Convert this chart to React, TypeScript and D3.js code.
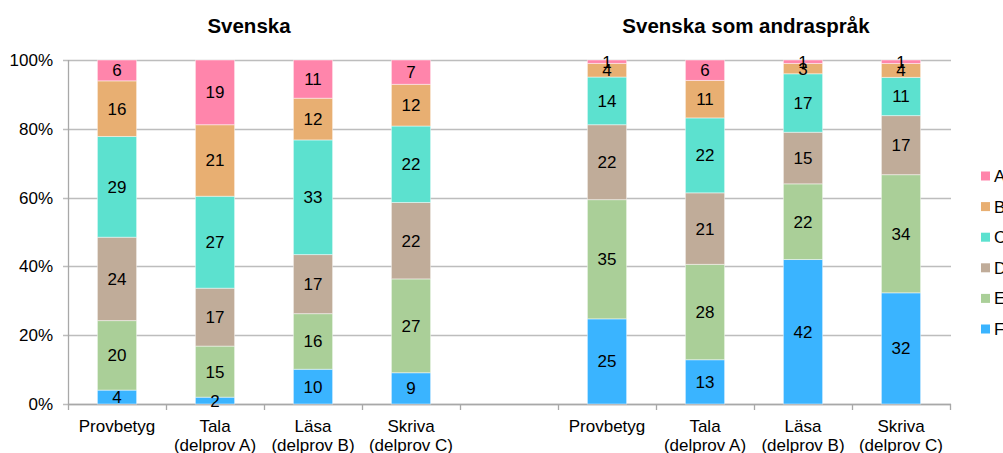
import React from "react";
import * as d3 from "d3";

const categories = ["sv1", "sv2", "sv3", "sv4", "gap", "sa1", "sa2", "sa3", "sa4"];
const categoryLabels: string[][] = [
  ["Provbetyg"], ["Tala", "(delprov A)"], ["Läsa", "(delprov B)"], ["Skriva", "(delprov C)"],
  [],
  ["Provbetyg"], ["Tala", "(delprov A)"], ["Läsa", "(delprov B)"], ["Skriva", "(delprov C)"],
];
const grades = ["F", "E", "D", "C", "B", "A"];
const legendOrder = ["A", "B", "C", "D", "E", "F"];
const valuesF = [4, 2, 10, 9, 0, 25, 13, 42, 32];
const valuesE = [20, 15, 16, 27, 0, 35, 28, 22, 34];
const valuesD = [24, 17, 17, 22, 0, 22, 21, 15, 17];
const valuesC = [29, 27, 33, 22, 0, 14, 22, 17, 11];
const valuesB = [16, 21, 12, 12, 0, 4, 11, 3, 4];
const valuesA = [6, 19, 11, 7, 0, 1, 6, 1, 1];
const yTicks = [0, 0.2, 0.4, 0.6, 0.8, 1];
const titles = ["Svenska", "Svenska som andraspråk"];

const colors: Record<string, string> = {
  A: "#FF85AB",
  B: "#E8AF72",
  C: "#5CE1CF",
  D: "#C0AC99",
  E: "#AACF98",
  F: "#3AB4FF",
};

const FONT = "'Liberation Sans', Arial, sans-serif";

export default function App() {
  const W = 1003, H = 453;
  const left = 68, right = 950, top = 60, bottom = 404;
  const rows = categories.map((c, i) => ({
    cat: c,
    F: valuesF[i], E: valuesE[i], D: valuesD[i], C: valuesC[i], B: valuesB[i], A: valuesA[i],
  }));
  const x = d3.scaleBand<string>().domain(categories).range([left, right]).paddingInner(0.6).paddingOuter(0.3);
  const y = d3.scaleLinear().domain([0, 1]).range([bottom, top]);
  const stack = d3.stack<any>().keys(grades).offset(d3.stackOffsetExpand);
  const series = stack(rows.filter(r => r.cat !== "gap") as any);
  const step = x.step();
  const boundaries = d3.range(categories.length + 1).map(i => left + i * step);

  return (
    <svg width={W} height={H} style={{ position: "absolute", left: 0, top: 0, background: "#fff" }} fontFamily={FONT}>
      {yTicks.map(t => (
        <g key={t}>
          <line x1={left - 5} x2={right + 1} y1={Math.round(y(t)) + 0.5} y2={Math.round(y(t)) + 0.5} stroke="#BDBDBD" strokeWidth={1.3} />
          <text x={53} y={y(t) + 6} textAnchor="end" fontSize={17} fill="#000">{d3.format(".0%")(t)}</text>
        </g>
      ))}
      <line x1={left + 0.5} x2={left + 0.5} y1={top} y2={bottom} stroke="#A8A8A8" strokeWidth={1.3} />
      <line x1={left} x2={right + 1} y1={bottom + 0.5} y2={bottom + 0.5} stroke="#A8A8A8" strokeWidth={1.3} />
      {boundaries.map((b, i) => (
        <line key={i} x1={Math.round(b) + 0.5} x2={Math.round(b) + 0.5} y1={bottom} y2={bottom + 6} stroke="#A8A8A8" strokeWidth={1.3} />
      ))}
      {series.map(s => (
        <g key={s.key}>
          {s.map((d: any, j: number) => {
            const cat = d.data.cat;
            const x0 = x(cat)!;
            const y0 = y(d[1]);
            const y1 = y(d[0]);
            const v = d.data[s.key];
            return (
              <g key={cat}>
                <rect x={x0} y={y0} width={x.bandwidth()} height={Math.max(0, y1 - y0)} fill={colors[s.key]} stroke="rgba(255,255,255,0.45)" strokeWidth={1} />
              </g>
            );
          })}
        </g>
      ))}
      {series.map(s => (
        <g key={"l" + s.key}>
          {s.map((d: any) => {
            const cat = d.data.cat;
            const v = d.data[s.key];
            const cy = (y(d[0]) + y(d[1])) / 2;
            return (
              <text key={cat} x={x(cat)! + x.bandwidth() / 2} y={cy + 6} textAnchor="middle" fontSize={17} fill="#000">{v}</text>
            );
          })}
        </g>
      ))}
      {categories.map((c, i) => (
        <g key={"c" + c}>
          {categoryLabels[i].map((line, k) => (
            <text key={k} x={x(c)! + x.bandwidth() / 2} y={432 + k * 19} textAnchor="middle" fontSize={17} fill="#000">{line}</text>
          ))}
        </g>
      ))}
      <text x={249} y={33} textAnchor="middle" fontSize={20.5} fontWeight="bold" fill="#000">{titles[0]}</text>
      <text x={746} y={33} textAnchor="middle" fontSize={20.5} fontWeight="bold" fill="#000">{titles[1]}</text>
      {legendOrder.map((g, i) => (
        <g key={"lg" + g} transform={`translate(981, ${176 + i * 30.6})`}>
          <rect x={0} y={-4.5} width={9} height={9} fill={colors[g]} />
          <text x={13} y={6} fontSize={17} fill="#000">{g}</text>
        </g>
      ))}
    </svg>
  );
}
